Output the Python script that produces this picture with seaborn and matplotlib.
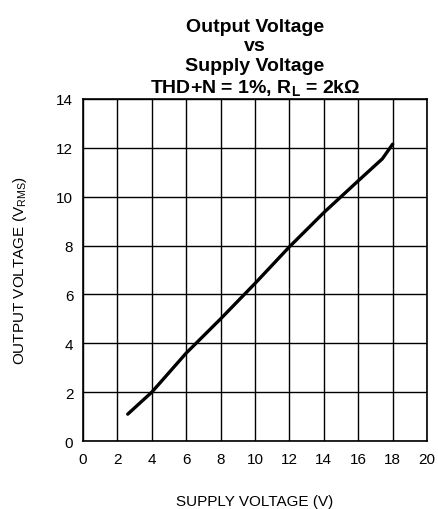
import matplotlib
matplotlib.use("Agg")
import matplotlib.pyplot as plt
import seaborn as sns
import pandas as pd

# values
supply_v = [2.6, 4.0, 6.0, 8.0, 10.0, 12.0, 14.0, 16.0, 17.4, 18.0]
output_v = [1.1, 2.0, 3.6, 5.0, 6.45, 7.95, 9.35, 10.65, 11.55, 12.15]
x_ticks = [0, 2, 4, 6, 8, 10, 12, 14, 16, 18, 20]
y_ticks = [0, 2, 4, 6, 8, 10, 12, 14]

df = pd.DataFrame({"supply": supply_v, "output": output_v})

sns.set_style("white")
plt.rcParams["font.family"] = ["Liberation Sans", "DejaVu Sans"]
plt.rcParams["mathtext.default"] = "regular"
plt.rcParams["text.color"] = "black"
plt.rcParams["axes.labelcolor"] = "black"

fig = plt.figure(figsize=(4.38, 5.10), dpi=100)
ax = fig.add_axes([0.1895, 0.1333, 0.7855, 0.6707])

sns.lineplot(data=df, x="supply", y="output", color="black", linewidth=2.4, ax=ax)

ax.set_xlim(0, 20)
ax.set_ylim(0, 14)
ax.set_xticks(x_ticks)
ax.set_yticks(y_ticks)
ax.grid(True, color="black", linewidth=1.0)
ax.tick_params(length=0, labelsize=11, colors="black")
ax.tick_params(axis="x", pad=8)
ax.tick_params(axis="y", pad=7)
for s in ax.spines.values():
    s.set_color("black")
    s.set_linewidth(1.2)
ax.set_axisbelow(True)

ax.set_xlabel("SUPPLY VOLTAGE (V)", fontsize=11, labelpad=20)
ax.set_ylabel("OUTPUT VOLTAGE (V$_{RMS}$)", fontsize=11, labelpad=20)
ax.set_title("Output Voltage\nvs\nSupply Voltage\nTHD+N = 1%, R$_{L}$ = 2k\u03a9",
             fontsize=14, fontweight="bold", linespacing=1.2, pad=5)

fig.savefig("out.png", dpi=100)
